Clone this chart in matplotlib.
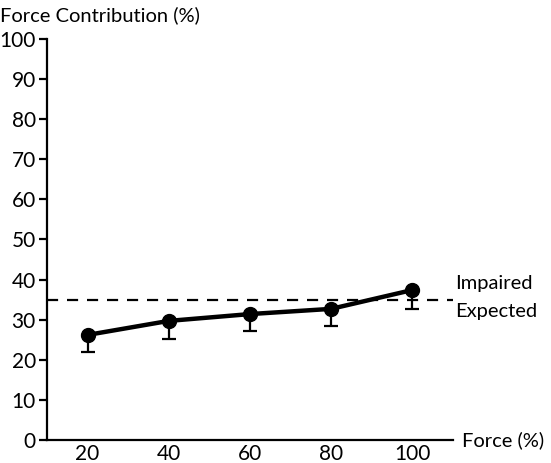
import matplotlib
matplotlib.use("Agg")
import matplotlib.pyplot as plt

plt.rcParams['font.family'] = ['Lato', 'DejaVu Sans']

force = [20, 40, 60, 80, 100]
contribution = [26.2, 29.7, 31.4, 32.7, 37.4]
err_lower = [4.2, 4.5, 4.2, 4.3, 4.7]
expected = 35
yticks = [0, 10, 20, 30, 40, 50, 60, 70, 80, 90, 100]

fig = plt.figure(figsize=(5.51, 4.63), dpi=100)
ax = fig.add_axes([0.0853, 0.0497, 0.7367, 0.8661])

ax.errorbar(force, contribution, yerr=[err_lower, [0]*len(err_lower)], fmt='none',
            ecolor='black', elinewidth=1.6, capsize=5, capthick=1.6, zorder=2)
ax.plot(force, contribution, color='black', lw=3.2, marker='o', markersize=10, zorder=3)
ax.axhline(expected, color='black', lw=1.6, ls=(0, (5, 4)), xmin=0, xmax=1, zorder=1)

ax.set_xlim(10, 110)
ax.set_ylim(0, 100)
ax.set_yticks(yticks)
ax.set_xticks(force)
ax.tick_params(axis='y', direction='out', length=6, width=1.6, labelsize=15, pad=2)
ax.tick_params(axis='x', length=0, labelsize=15, pad=3)
for s in ['top', 'right']:
    ax.spines[s].set_visible(False)
for s in ['left', 'bottom']:
    ax.spines[s].set_linewidth(1.6)

fig.text(0.0, 0.968, 'Force Contribution (%)', fontsize=14.5, ha='left', va='center')
fig.text(0.838, 0.05, 'Force (%)', fontsize=14.5, ha='left', va='center')
fig.text(0.826, 0.388, 'Impaired', fontsize=14.5, ha='left', va='center')
fig.text(0.826, 0.328, 'Expected', fontsize=14.5, ha='left', va='center')

fig.savefig('out.png', dpi=100)
